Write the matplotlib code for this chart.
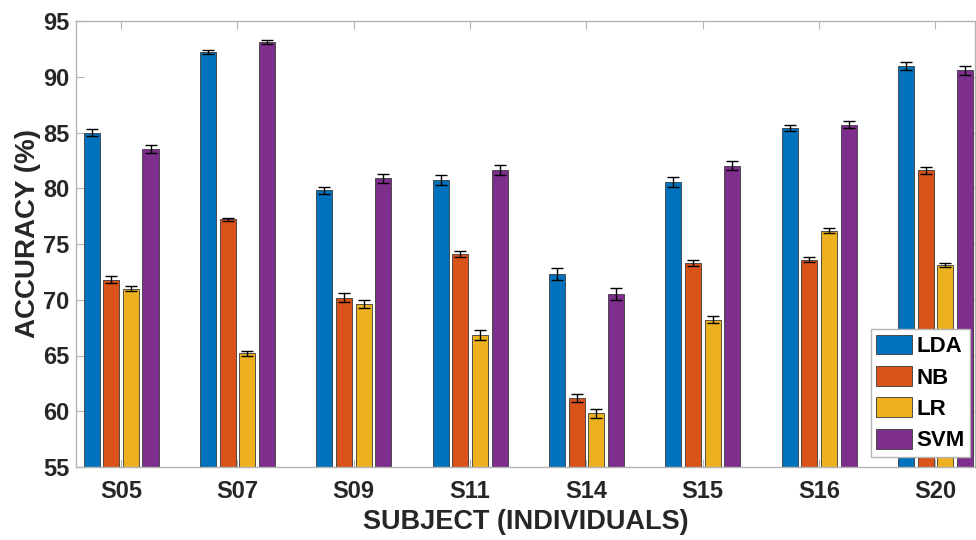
import numpy as np
import matplotlib
matplotlib.use('Agg')
import matplotlib.pyplot as plt

# Subjects and classifier results (accuracy %, with error bar half-lengths)
subjects = ['S05', 'S07', 'S09', 'S11', 'S14', 'S15', 'S16', 'S20']
classifiers = ['LDA', 'NB', 'LR', 'SVM']

lda = [85.0, 92.2, 79.8, 80.7, 72.3, 80.6, 85.4, 91.0]
nb = [71.8, 77.2, 70.2, 74.1, 61.2, 73.3, 73.6, 81.6]
lr = [71.0, 65.2, 69.6, 66.8, 59.8, 68.2, 76.2, 73.1]
svm = [83.5, 93.1, 80.9, 81.6, 70.5, 82.0, 85.7, 90.6]

lda_err = [0.35, 0.2, 0.3, 0.45, 0.55, 0.45, 0.3, 0.35]
nb_err = [0.3, 0.15, 0.4, 0.3, 0.35, 0.3, 0.25, 0.3]
lr_err = [0.25, 0.2, 0.35, 0.45, 0.4, 0.3, 0.25, 0.2]
svm_err = [0.35, 0.2, 0.4, 0.45, 0.55, 0.4, 0.3, 0.4]

colors = ['#0072BD', '#D95319', '#EDB120', '#7E2F8E']

plt.rcParams['font.family'] = ['Liberation Sans', 'DejaVu Sans']
plt.rcParams['font.weight'] = 'bold'

fig = plt.figure(figsize=(9.76, 5.40), dpi=100)
ax = fig.add_axes([76 / 976, 73 / 540, 899 / 976, 446 / 540])

x = np.arange(1, len(subjects) + 1)
step = 0.169
width = 0.138
series = [lda, nb, lr, svm]
errors = [lda_err, nb_err, lr_err, svm_err]

for i, (vals, errs) in enumerate(zip(series, errors)):
    offset = (i - 1.5) * step
    ax.bar(x + offset, vals, width=width, color=colors[i], edgecolor='#3a3a3a',
           linewidth=0.6, label=classifiers[i], zorder=2)
    ax.errorbar(x + offset, vals, yerr=errs, fmt='none', ecolor='black',
                elinewidth=1.0, capsize=4, capthick=1.0, zorder=3)

ax.set_xlim(0.613, 8.34)
ax.set_ylim(55, 95)
ax.set_yticks(np.arange(55, 96, 5))
ax.set_xticks(x)
ax.set_xticklabels(subjects)

for s in ax.spines.values():
    s.set_color('#b4b4b4')
    s.set_linewidth(1.0)

ax.tick_params(axis='both', direction='in', length=6, width=0.8, color='#b4b4b4',
               labelsize=17, labelcolor='#262626', top=True, right=True)
ax.tick_params(axis='x', pad=9)
ax.tick_params(axis='y', pad=5)

ax.set_xlabel('SUBJECT (INDIVIDUALS)', fontsize=19.5, fontweight='bold',
              color='#262626', labelpad=5)
ax.set_ylabel('ACCURACY (%)', fontsize=20, fontweight='bold',
              color='#262626', labelpad=1.3)
ax.yaxis.label.set_y(0.5235)

leg = ax.legend(loc='lower right', bbox_to_anchor=(0.9944, 0.0224),
                borderaxespad=0, fontsize=16, fancybox=False, framealpha=1,
                edgecolor='#b4b4b4', handlelength=1.6, handleheight=1.0,
                handletextpad=0.2, labelspacing=0.4, borderpad=0.25)
leg.get_frame().set_linewidth(1.0)
for t in leg.get_texts():
    t.set_fontweight('bold')

fig.savefig('out.png', dpi=100)
